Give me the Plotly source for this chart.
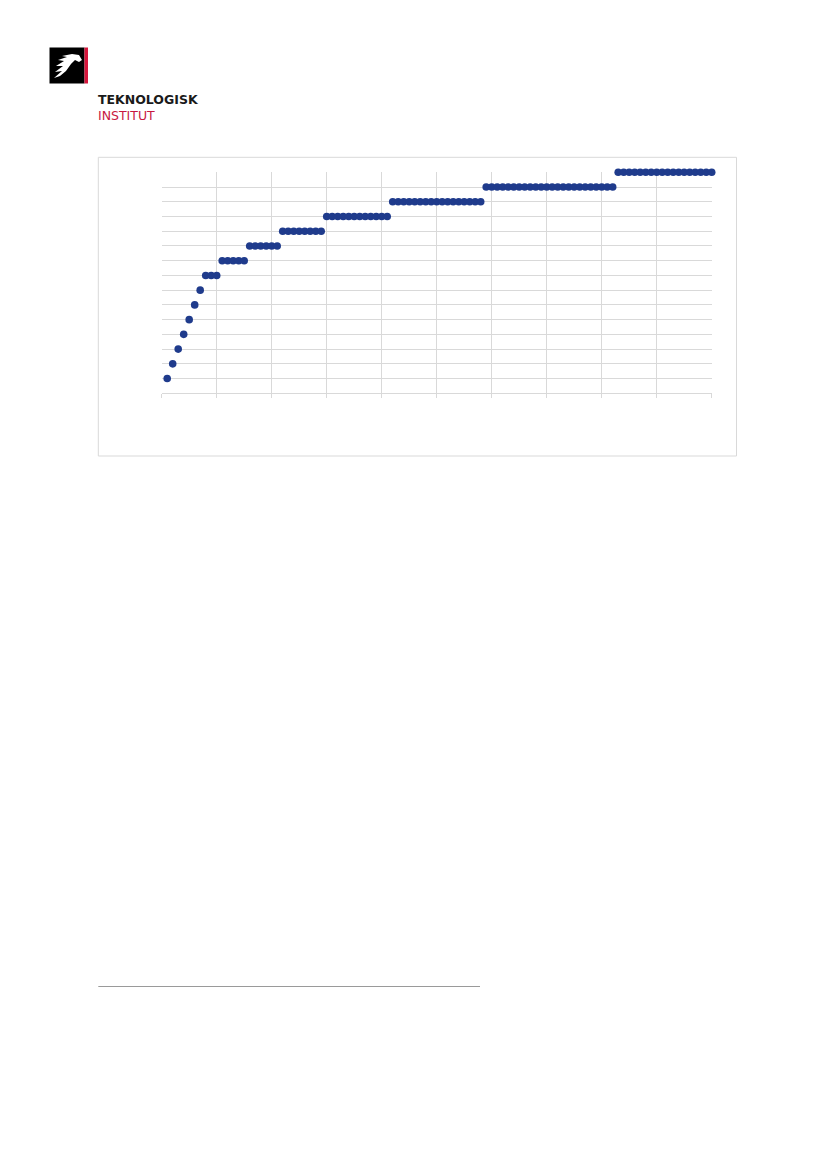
import plotly.graph_objects as go

W, H = 827, 1169

# data: one point per x, y steps up
x_vals = list(range(1, 101))
y_vals = [1, 2, 3, 4, 5, 6, 7,
          8, 8, 8,
          9, 9, 9, 9, 9,
          10, 10, 10, 10, 10, 10,
          11, 11, 11, 11, 11, 11, 11, 11,
          12, 12, 12, 12, 12, 12, 12, 12, 12, 12, 12, 12,
          13, 13, 13, 13, 13, 13, 13, 13, 13, 13, 13, 13, 13, 13, 13, 13, 13,
          14, 14, 14, 14, 14, 14, 14, 14, 14, 14, 14, 14, 14, 14, 14, 14, 14, 14,
          14, 14, 14, 14, 14, 14,
          15, 15, 15, 15, 15, 15, 15, 15, 15, 15, 15, 15, 15, 15, 15, 15, 15, 15]
x_ticks = [0, 10, 20, 30, 40, 50, 60, 70, 80, 90, 100]
y_ticks = list(range(0, 16))


def px(x):
    return x / W


def py(y):
    return 1 - y / H


def path(points):
    s = "M " + " L ".join(f"{px(a):.5f},{py(b):.5f}" for a, b in points)
    return s + " Z"


fig = go.Figure()
fig.add_trace(go.Scatter(
    x=x_vals, y=y_vals, mode="markers",
    marker=dict(size=7.6, color="#1f3b8c"),
    cliponaxis=False, showlegend=False,
))

grid = "#d9d9d9"
fig.update_xaxes(
    range=[0, 100], domain=[px(161.7), px(711.7)],
    tickvals=x_ticks, showticklabels=False,
    showgrid=True, gridcolor=grid, gridwidth=1, zeroline=False,
    showline=True, linecolor=grid, linewidth=1,
    ticks="outside", ticklen=4, tickcolor=grid,
)
fig.update_yaxes(
    range=[0, 15], domain=[py(393.3), py(172.3)],
    tickvals=y_ticks, showticklabels=False,
    showgrid=True, gridcolor=grid, gridwidth=1, zeroline=False,
    showline=False,
)

shapes = [
    # chart frame
    dict(type="rect", xref="paper", yref="paper",
         x0=px(98.3), x1=px(736.5), y0=py(456), y1=py(157.3),
         line=dict(color=grid, width=1), fillcolor="rgba(0,0,0,0)"),
    # logo: black square + red bar
    dict(type="rect", xref="paper", yref="paper",
         x0=px(49.5), x1=px(84.5), y0=py(83.5), y1=py(47.5),
         line=dict(width=0), fillcolor="#000000"),
    dict(type="rect", xref="paper", yref="paper",
         x0=px(84.5), x1=px(88), y0=py(83.5), y1=py(47.5),
         line=dict(width=0), fillcolor="#d6163c"),
    # bird / wing
    dict(type="path", xref="paper", yref="paper",
         path=path([(54, 78), (62, 71), (55, 72), (63, 66), (56, 66),
                    (64, 61), (58, 60), (67, 57), (62, 56), (72, 54),
                    (79, 55), (82, 60), (79, 62), (75, 60), (71, 64),
                    (66, 71), (60, 76)]),
         line=dict(width=0), fillcolor="#ffffff"),
    # footnote rule
    dict(type="line", xref="paper", yref="paper",
         x0=px(98.3), x1=px(480), y0=py(986.5), y1=py(986.5),
         line=dict(color="#9a9a9a", width=1.2)),
]

annotations = [
    dict(text="<b>TEKNOLOGISK</b><br><span style='color:#c8173f'>INSTITUT</span>",
         x=px(95.5), y=py(108), xref="paper", yref="paper",
         xanchor="left", yanchor="middle", align="left", showarrow=False,
         font=dict(family="DejaVu Sans", size=12.5, color="#1a1a1a")),
]

fig.update_layout(
    width=W, height=H, margin=dict(l=0, r=0, t=0, b=0),
    paper_bgcolor="white", plot_bgcolor="white",
    shapes=shapes, annotations=annotations,
)

fig.write_html("out.html", config={"displayModeBar": False},
               post_script="document.body.style.margin='0';")
